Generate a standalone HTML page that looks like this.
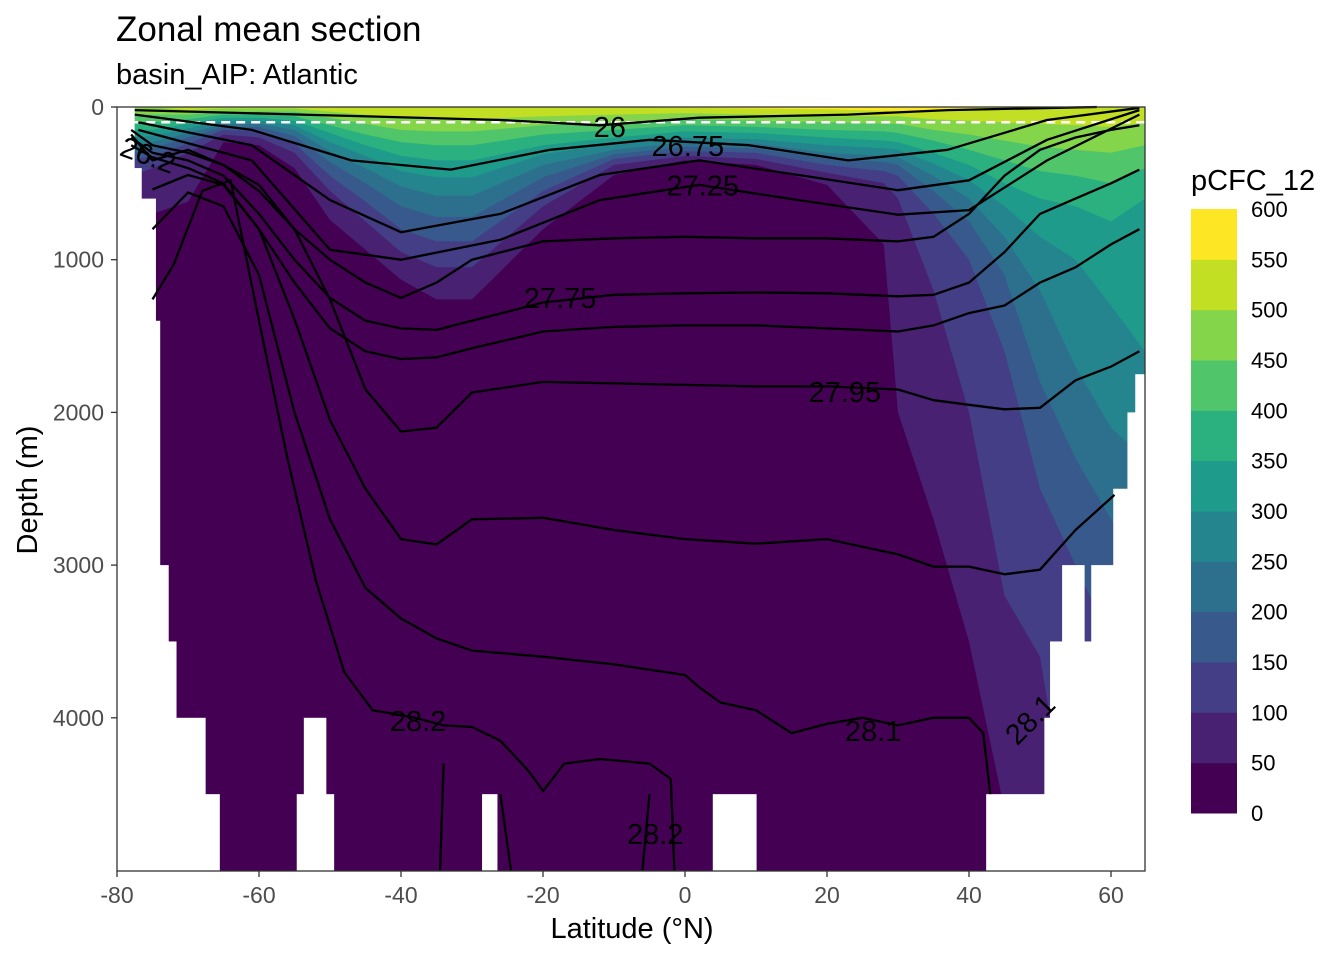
<!DOCTYPE html>
<html><head><meta charset="utf-8"><style>
body{margin:0;background:#fff;}
svg{display:block;font-family:"Liberation Sans",sans-serif;}
</style></head><body>
<svg id="chart" width="1344" height="960" viewBox="0 0 1344 960" xmlns="http://www.w3.org/2000/svg">
<text x="116" y="41" font-size="35" fill="#000">Zonal mean section</text>
<text x="116" y="84" font-size="29" fill="#000">basin_AIP: Atlantic</text>
<g id="panel"></g>
<text x="632" y="938" font-size="29" text-anchor="middle">Latitude (°N)</text>
<text x="0" y="0" font-size="29" text-anchor="middle" transform="translate(37,490) rotate(-90)">Depth (m)</text>
<text x="1191" y="190" font-size="29">pCFC_12</text>
<g id="legend"></g>
</svg>
<script>
const lats = [-78,-75,-70,-65,-60,-55,-50,-45,-40,-35,-30,-20,-10,0,10,20,28,30,35,40,45,50,55,60,65];
const levels = [50,100,150,200,250,300,350,400,450,500,550];
const d50  = [700,700,620,230,250,400,740,935,1130,1260,1260,800,445,350,380,510,900,2000,2700,3500,4600,5000,5000,5000,5000];
const d100 = [450,400,300,180,200,300,550,750,950,1050,1050,650,380,320,340,430,500,600,1200,2000,3200,3600,5000,5000,5000];
const d150 = [350,320,240,150,160,240,450,620,800,880,880,550,340,290,300,380,420,450,700,1000,1600,2500,3000,3500,5000];
const d200 = [300,270,200,130,130,190,360,500,650,720,720,460,310,260,270,340,360,380,550,750,1100,1800,2300,2700,3000];
const d250 = [250,230,170,110,110,150,290,400,520,580,580,380,280,230,240,300,320,330,450,600,850,1200,1700,2100,2300];
const d300 = [200,190,140,90,90,120,230,320,420,460,460,310,240,200,210,250,270,280,370,480,650,850,1000,1300,1600];
const d350 = [150,150,110,70,70,90,170,250,320,350,350,250,200,160,170,200,220,230,300,380,500,600,650,750,600];
const d400 = [100,100,80,50,50,60,120,180,230,250,250,180,150,120,130,150,160,170,220,280,350,420,450,500,400];
const d450 = [50,50,50,30,30,30,70,110,150,160,160,120,100,80,90,100,110,110,150,180,220,260,280,300,250];
const d500 = [0,0,20,10,10,10,30,50,70,80,80,60,50,40,50,60,60,60,80,90,100,110,120,130,100];
const d550 = [0,0,0,0,0,0,0,0,0,0,0,0,0,5,10,15,25,25,25,10,0,0,0,0,0];
const levelDepths = [d50,d100,d150,d200,d250,d300,d350,d400,d450,d500,d550];
const colors = ["#440154","#482173","#433E85","#38598C","#2D708E","#25858E","#1E9B8A","#2BB07F","#51C56A","#85D54A","#C2DF23","#FDE725"];
const legendLabels = ["0","50","100","150","200","250","300","350","400","450","500","550","600"];
const xTicks = [-80,-60,-40,-20,0,20,40,60];
const yTicks = [0,1000,2000,3000,4000];
const mask = [[-80,-77.6,0,5000],[-77.6,-76.6,400,5000],[-76.6,-74.6,600,5000],[-74.6,-74,1400,5000],[-74,-72.8,3000,5000],[-72.8,-71.7,3500,5000],[-71.7,-67.6,4000,5000],[-67.6,-65.6,4500,5000],[-53.6,-50.6,4000,4500],[-54.6,-49.5,4500,5000],[-28.5,-26.5,4500,5000],[4,10,4500,5000],[42.5,65,4500,5000],[50.7,65,4000,4500],[51.5,65,3500,4000],[53.2,56.2,3000,3500],[57.3,65,3000,3500],[60.4,65,2500,3000],[62.4,65,2000,2500],[63.5,65,1750,2000]];
const isoLat = [-78,-75,-70,-65,-60,-55,-50,-45,-40,-35,-30,-20,-10,0,10,20,30,35,40,45,50,55,60,64];
const iso26Lat = [-77.5,-54,-26,-12,2,23,37,58];
const iso26 = [20,50,85,120,70,50,20,0];
const iso2675Lat = [-77.5,-61,-47,-33,-19,-5,9,23,37,51,64];
const iso2675 = [50,150,350,410,280,215,250,350,280,85,5];
const iso27Lat = [-77,-61,-50,-40,-26,-12,2,16,30,40,51,64];
const iso27 = [100,250,610,820,700,445,350,445,545,480,215,20];
const iso2725 = [150,350,935,1000,870,610,510,610,705,675,350,50];
const iso275 = [150,250,300,380,550,800,1000,1150,1250,1150,1000,880,860,850,860,860,880,850,700,450,280,200,150,120];
const iso2775 = [200,300,350,450,700,1000,1250,1400,1450,1460,1400,1280,1230,1220,1215,1220,1240,1230,1150,950,700,600,500,410];
const iso2785 = [250,330,400,500,800,1150,1450,1600,1650,1640,1580,1470,1440,1430,1430,1450,1470,1430,1350,1300,1150,1050,900,800];
const iso2795 = [180,350,280,380,510,800,1260,1850,2125,2100,1870,1800,1810,1820,1830,1830,1850,1920,1950,1980,1970,1790,1700,1600];
const iso28Lat = [-75,-70,-65,-60,-55,-50,-45,-40,-35,-30,-20,-10,0,10,20,30,35,40,45,50,55,60.5];
const iso28 = [540,445,510,800,1390,2050,2500,2830,2865,2700,2690,2770,2830,2860,2830,2930,3010,3010,3060,3030,2770,2540];
const iso281Lat = [-75,-70,-65,-60,-55,-50,-45,-40,-35,-30,-20,-10,0,2,5,10,15,20,25,30,35,40,42,43];
const iso281 = [800,560,650,1100,2000,2700,3150,3350,3480,3560,3600,3650,3720,3800,3900,3950,4100,4040,4000,4050,4000,4000,4100,4500];
const iso282Lat = [-75,-72,-68,-64,-60,-56,-52,-48,-44,-38,-34,-30,-26,-22,-20,-17,-12,-5,-2,-1.5];
const iso282 = [1260,1030,550,480,1400,2300,3100,3700,3950,4000,4050,4060,4150,4350,4480,4300,4270,4300,4400,5000];
const isoLines = [[iso26Lat,iso26],[iso2675Lat,iso2675],[iso27Lat,iso27],[iso27Lat,iso2725],[isoLat,iso275],[isoLat,iso2775],[isoLat,iso2785],[isoLat,iso2795],[iso28Lat,iso28],[iso281Lat,iso281],[iso282Lat,iso282],[[-34.5,-34],[5000,4300]],[[-26,-24.5],[4500,5000]],[[-6,-5],[5000,4500]]];
const labelText = ["26","26.75","27.25","27.75","27.95","28.2","28.1","28.2","26.2","28.1"];
const labelLat = [-10.6,0.4,2.5,-17.6,22.5,-37.6,26.5,-4.2,-75.6,48.6];
const labelDepth = [130,255,515,1250,1865,4020,4085,4760,315,4010];
const labelRot = [0,0,0,0,0,0,0,0,20,-45];

const NS="http://www.w3.org/2000/svg";
const X = lat => 117 + (lat + 80) * 7.1;
const Y = d => 107 + d * 0.1527;
const panel = document.getElementById('panel');
function mk(tag, attrs, parent){const e=document.createElementNS(NS,tag);for(const k in attrs)e.setAttribute(k,attrs[k]);(parent||panel).appendChild(e);return e;}

const bg = mk('rect',{x:117,y:107,width:1028,height:764,fill:'#fff'});


const base = mk('rect',{x:X(-78),y:107,width:1145-X(-78),height:764,fill:colors[0]});


levelDepths.forEach((arr,k)=>{
  let pts=[[X(-78),107]];
  lats.forEach((la,i)=>pts.push([Math.min(X(la),1145),Y(Math.min(arr[i],5000))]));
  pts.push([1145,107]);
  const p=mk('polygon',{points:pts.map(q=>q[0].toFixed(1)+','+q[1].toFixed(1)).join(' '),fill:colors[k+1]});
  
  
});
mask.forEach(m=>{
  const r=mk('rect',{x:X(m[0])-0.6,y:Y(m[2]),width:X(m[1])-X(m[0])+1.2,height:Y(m[3])-Y(m[2])+1,fill:'#fff'});
  
  
});
[-70,-50,-30,-10,10,30,50].forEach(v=>{const g=mk('line',{x1:X(v),x2:X(v),y1:107,y2:871,stroke:'#f2f2f2','stroke-width':1,'opacity':0.0});

});
const dash = mk('line',{x1:X(-78),x2:1145,y1:Y(100),y2:Y(100),stroke:'#fff','stroke-width':2.5,'stroke-dasharray':'9,6'});


isoLines.forEach((L,j)=>{
  const d=L[0].map((la,i)=>(i?'L':'M')+X(la).toFixed(1)+','+Y(L[1][i]).toFixed(1)).join(' ');
  const p=mk('path',{d:d,fill:'none',stroke:'#000','stroke-width':2.3,'stroke-linejoin':'round'});
  
  
});
labelText.forEach((t,i)=>{
  const x=X(labelLat[i]),y=Y(labelDepth[i]);
  const e=mk('text',{x:x,y:y+10,'font-size':29,'text-anchor':'middle',fill:'#000',transform:'rotate('+labelRot[i]+' '+x+' '+y+')'});
  e.textContent=t;
  
  
});
const border=mk('rect',{x:117,y:107,width:1028,height:764,fill:'none',stroke:'#333','stroke-width':1.3});


xTicks.forEach(v=>{
  const tk=mk('line',{x1:X(v),x2:X(v),y1:871,y2:877,stroke:'#333','stroke-width':1.3});
  
  
  const t=mk('text',{x:X(v),y:903,'font-size':23,'text-anchor':'middle',fill:'#4d4d4d'});
  t.textContent=v;
  
  
});
yTicks.forEach(v=>{
  const tk=mk('line',{x1:111,x2:117,y1:Y(v),y2:Y(v),stroke:'#333','stroke-width':1.3});
  
  
  const t=mk('text',{x:104,y:Y(v)+8,'font-size':23,'text-anchor':'end',fill:'#4d4d4d'});
  t.textContent=v;
  
  
});
const leg=document.getElementById('legend');
const bh=604/12;
colors.forEach((c,i)=>{
  const r=mk('rect',{x:1191,y:813-(i+1)*bh,width:46,height:bh+0.5,fill:c},leg);
  
  
});
legendLabels.forEach((t,i)=>{
  const e=mk('text',{x:1251,y:813-i*bh+8,'font-size':22,fill:'#000'},leg);
  e.textContent=t;
  
  
});
</script>
</body></html>
